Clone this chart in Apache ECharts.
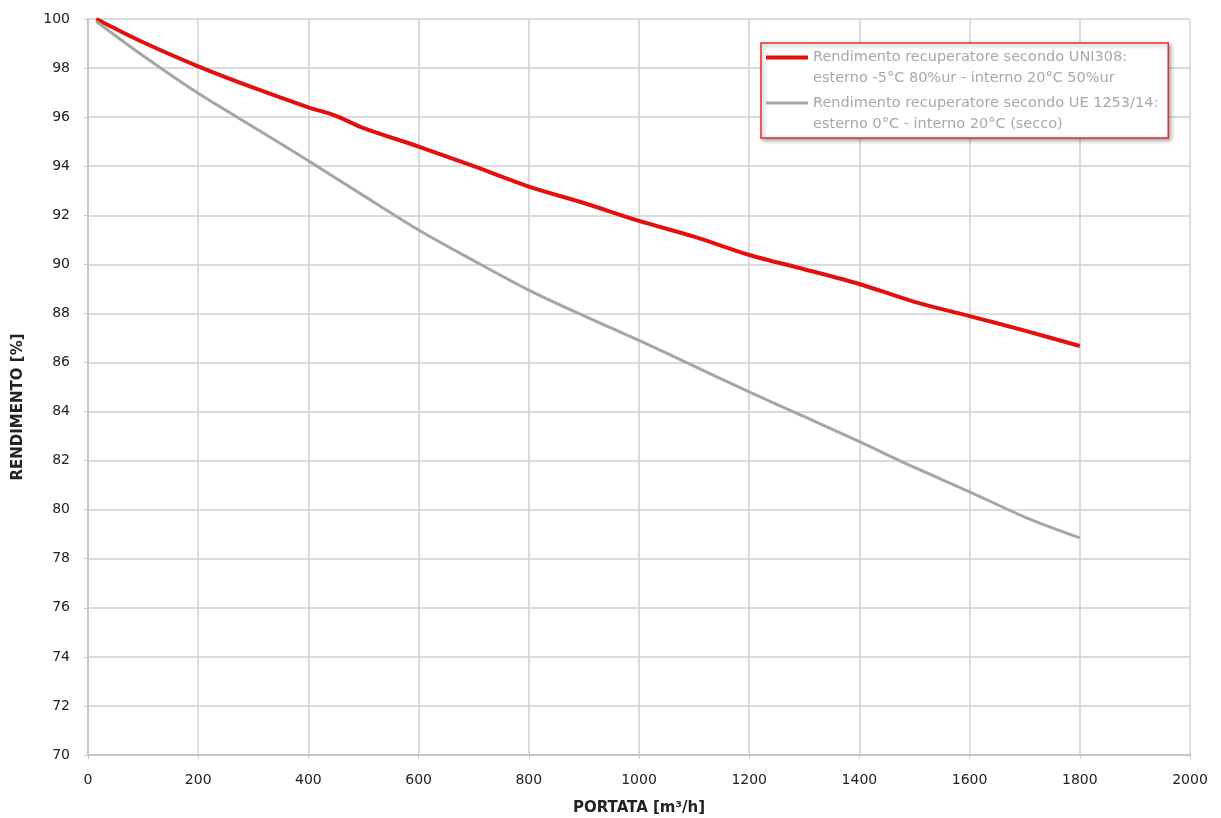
<!DOCTYPE html>
<html><head><meta charset="utf-8">
<script src="https://cdn.jsdelivr.net/npm/echarts@6/dist/echarts.min.js"></script>
<style>html,body{margin:0;padding:0;background:#fff}#c{width:1221px;height:818px}</style>
</head><body><div id="c"></div>
<script>
const flowRed = [15, 100, 200, 300, 400, 450, 500, 600, 700, 800, 900, 1000, 1100, 1200, 1300, 1400, 1500, 1600, 1700, 1800];
const effRed  = [100, 99.05, 98.07, 97.2, 96.4, 96.05, 95.55, 94.8, 94.0, 93.17, 92.5, 91.77, 91.13, 90.38, 89.8, 89.2, 88.47, 87.89, 87.3, 86.67];
const flowGray = [15, 100, 200, 300, 400, 500, 600, 700, 800, 900, 1000, 1100, 1200, 1300, 1400, 1500, 1600, 1700, 1800];
const effGray  = [99.9, 98.5, 96.97, 95.6, 94.22, 92.8, 91.4, 90.15, 88.95, 87.9, 86.9, 85.85, 84.8, 83.79, 82.77, 81.72, 80.73, 79.7, 78.85];
const nameRed = "Rendimento recuperatore secondo UNI308:\nesterno -5°C 80%ur - interno 20°C 50%ur";
const nameGray = "Rendimento recuperatore secondo UE 1253/14:\nesterno 0°C - interno 20°C (secco)";
const xName = "PORTATA [m³/h]";
const yName = "RENDIMENTO [%]";

const chart = echarts.init(document.getElementById('c'));
const pair = (xs, ys) => xs.map((x, i) => [x, ys[i]]);
const axisFont = {color: '#222', fontSize: 14, fontFamily: 'DejaVu Sans'};
const iconPath = (t) => 'path://M0,0 L42,0 L42,' + t + ' L0,' + t + ' Z M0,25 L0,25';
chart.setOption({
  animation: false,
  backgroundColor: '#fff',
  grid: {left: 88, right: 31, top: 19, bottom: 63, containLabel: false, outerBoundsMode: 'none'},
  legend: {
    orient: 'vertical', left: 761, top: 43,
    backgroundColor: '#fff', borderColor: '#e03030', borderWidth: 1.5,
    shadowColor: 'rgba(0,0,0,0.35)', shadowBlur: 4, shadowOffsetX: 2, shadowOffsetY: 2,
    padding: [4, 10, 3, 5], itemGap: 4, itemWidth: 42, itemHeight: 25, itemTextGap: 4,
    textStyle: {color: '#a8a8a8', fontSize: 14.5, fontFamily: 'DejaVu Sans', lineHeight: 21},
    data: [
      {name: nameRed, icon: iconPath(4)},
      {name: nameGray, icon: iconPath(3)}
    ]
  },
  xAxis: {
    type: 'value', min: 0, max: 2000, interval: 200,
    name: xName, nameLocation: 'middle', nameGap: 46,
    nameTextStyle: {color: '#222', fontSize: 15, fontWeight: 'bold', fontFamily: 'DejaVu Sans'},
    axisLine: {show: true, lineStyle: {color: '#c8c8c8', width: 2}},
    axisTick: {show: true, length: 4, lineStyle: {color: '#c8c8c8'}},
    axisLabel: Object.assign({margin: 18, formatter: (v) => String(v)}, axisFont),
    splitLine: {show: true, lineStyle: {color: '#cfcfcf', width: 1.5}}
  },
  yAxis: {
    type: 'value', min: 70, max: 100, interval: 2,
    name: yName, nameLocation: 'middle', nameGap: 62, nameRotate: 90,
    nameTextStyle: {color: '#222', fontSize: 15, fontWeight: 'bold', fontFamily: 'DejaVu Sans', padding: [0, 40, 0, 0]},
    axisLine: {show: true, lineStyle: {color: '#c8c8c8', width: 2}},
    axisTick: {show: true, length: 4, lineStyle: {color: '#c8c8c8'}},
    axisLabel: Object.assign({margin: 18, formatter: (v) => String(v)}, axisFont),
    splitLine: {show: true, lineStyle: {color: '#cfcfcf', width: 1.5}}
  },
  series: [
    {name: nameRed, type: 'line', data: pair(flowRed, effRed), smooth: 0.3, showSymbol: false,
     color: '#e31010', lineStyle: {color: '#e31010', width: 4}},
    {name: nameGray, type: 'line', data: pair(flowGray, effGray), smooth: 0.3, showSymbol: false,
     color: '#a6a6a6', lineStyle: {color: '#a6a6a6', width: 3}}
  ]
});
</script></body></html>
